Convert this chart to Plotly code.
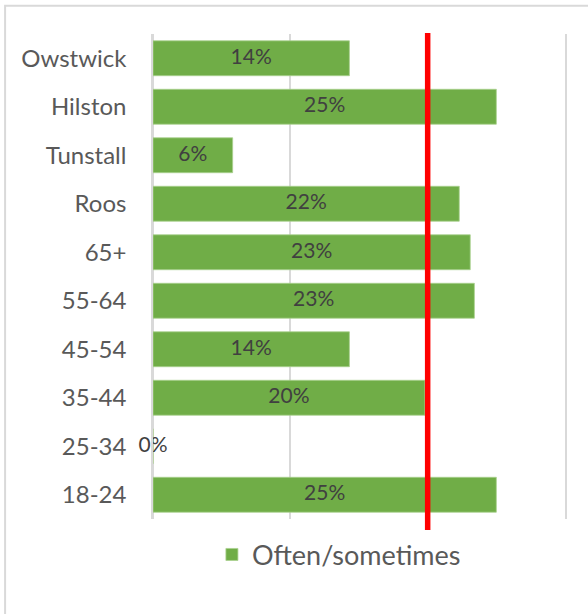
import plotly.graph_objects as go

# Share saying "often/sometimes", by area and age band
categories = ["Owstwick", "Hilston", "Tunstall", "Roos", "65+", "55-64",
              "45-54", "35-44", "25-34", "18-24"]
values = [14.3, 25.0, 5.8, 22.3, 23.1, 23.4, 14.3, 19.8, 0.0, 25.0]
labels = [f"{round(v)}%" for v in values]
target = 20  # red reference line

GREEN = "#70AD47"
GRID = "#D9D9D9"
FONT = "Lato"

fig = go.Figure()
fig.add_trace(go.Bar(
    x=values,
    y=categories,
    orientation="h",
    marker=dict(color=GREEN, line=dict(color="#A9D18E", width=0.8)),
    name="Often/sometimes",
    hoverinfo="skip",
))
# data labels centred on each bar (Excel style, 0% sits on the axis)
fig.add_trace(go.Scatter(
    x=[v / 2 for v in values],
    y=categories,
    mode="text",
    text=labels,
    textposition="middle center",
    textfont=dict(family=FONT, size=21, color="#404040"),
    showlegend=False,
    cliponaxis=False,
    hoverinfo="skip",
))

fig.update_layout(
    width=588,
    height=614,
    margin=dict(l=153, r=23, t=34, b=95),
    plot_bgcolor="white",
    paper_bgcolor="white",
    bargap=0.28,
    font=dict(family=FONT, color="#595959"),
    showlegend=True,
    legend=dict(
        orientation="h",
        x=0.143,
        xanchor="left",
        y=-0.074,
        yanchor="middle",
        font=dict(family=FONT, size=27, color="#595959"),
        itemclick=False,
    ),
    xaxis=dict(
        range=[0, 30],
        dtick=10,
        showticklabels=False,
        showgrid=True,
        gridcolor=GRID,
        gridwidth=1.5,
        zeroline=True,
        zerolinecolor=GRID,
        zerolinewidth=1.5,
        fixedrange=True,
        automargin=False,
    ),
    yaxis=dict(
        autorange="reversed",
        showgrid=False,
        # mirrored axis line stands in for the 0% and 30% gridlines at the edges
        showline=True,
        mirror=True,
        linecolor=GRID,
        linewidth=1.5,
        ticks="",
        ticklabelstandoff=20,
        automargin=False,
        tickfont=dict(family=FONT, size=24, color="#595959"),
        fixedrange=True,
    ),
    shapes=[
        # chart border (only top and left edges fall inside the picture)
        dict(type="rect", xref="paper", yref="paper",
             x0=-0.359, x1=1.09, y0=-0.22, y1=1.058,
             line=dict(color=GRID, width=2), layer="below"),
        dict(type="line", xref="x", yref="paper",
             x0=target, x1=target, y0=-0.054, y1=1.002,
             line=dict(color="#FF0000", width=5.5)),
    ],
)

# drop the default page margin so the figure sits at the window's corner
fig.write_html(
    "out.html",
    config={"displayModeBar": False},
    post_script="document.body.style.margin='0';",
)
